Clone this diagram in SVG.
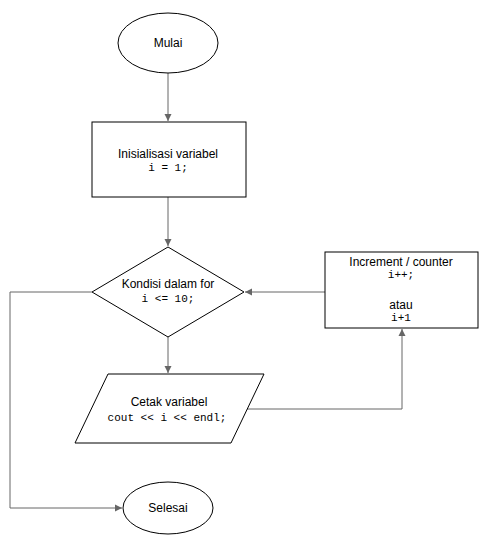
<svg xmlns="http://www.w3.org/2000/svg" width="489" height="548" viewBox="0 0 489 548">
<style>
.shape{fill:#fff;stroke:#000;stroke-width:1}
.t{font-family:"Liberation Sans",Arial,sans-serif;font-size:12px;fill:#000;text-anchor:middle}
.m{font-family:"Liberation Mono","Courier New",monospace;font-size:11px;fill:#000;text-anchor:middle}
.c{fill:none;stroke:#666;stroke-width:1}
</style>
<defs>
<marker id="ah" markerWidth="8" markerHeight="8" refX="7" refY="4" orient="auto" markerUnits="userSpaceOnUse">
<path d="M0,0.5 L7,4 L0,7.5 Z" fill="#666"/>
</marker>
</defs>
<rect width="489" height="548" fill="#fff"/>
<g id="connectors">
<line class="c" x1="168" y1="73" x2="168" y2="121" marker-end="url(#ah)"/>
<line class="c" x1="168" y1="197" x2="168" y2="246" marker-end="url(#ah)"/>
<line class="c" x1="168" y1="337" x2="168" y2="373" marker-end="url(#ah)"/>
<line class="c" x1="325" y1="292" x2="245" y2="292" marker-end="url(#ah)"/>
<polyline class="c" points="247,409 402,409 402,329" marker-end="url(#ah)"/>
<polyline class="c" points="92,292 10,292 10,508 122,508" marker-end="url(#ah)"/>
</g>
<g id="mulai">
<ellipse class="shape" cx="168" cy="43" rx="50" ry="30"/>
<text class="t" x="168" y="47">Mulai</text>
</g>
<g id="inisialisasi">
<rect class="shape" x="92" y="122" width="154" height="75"/>
<text class="t" x="168" y="158">Inisialisasi variabel</text>
<text class="m" x="168" y="171">i = 1;</text>
</g>
<g id="kondisi">
<polygon class="shape" points="168,247 244,292 168,337 92,292"/>
<text class="t" x="168" y="288">Kondisi dalam for</text>
<text class="m" x="168" y="302">i &lt;= 10;</text>
</g>
<g id="increment">
<rect class="shape" x="325" y="252" width="153" height="76"/>
<text class="t" x="401" y="266">Increment / counter</text>
<text class="m" x="401" y="278">i++;</text>
<text class="t" x="401" y="309">atau</text>
<text class="m" x="401" y="321">i+1</text>
</g>
<g id="cetak">
<polygon class="shape" points="108,374 264,374 231,443 75,443"/>
<text class="t" x="169" y="406">Cetak variabel</text>
<text class="m" x="167" y="421">cout &lt;&lt; i &lt;&lt; endl;</text>
</g>
<g id="selesai">
<ellipse class="shape" cx="168" cy="508" rx="45" ry="26"/>
<text class="t" x="168" y="512">Selesai</text>
</g>
</svg>
